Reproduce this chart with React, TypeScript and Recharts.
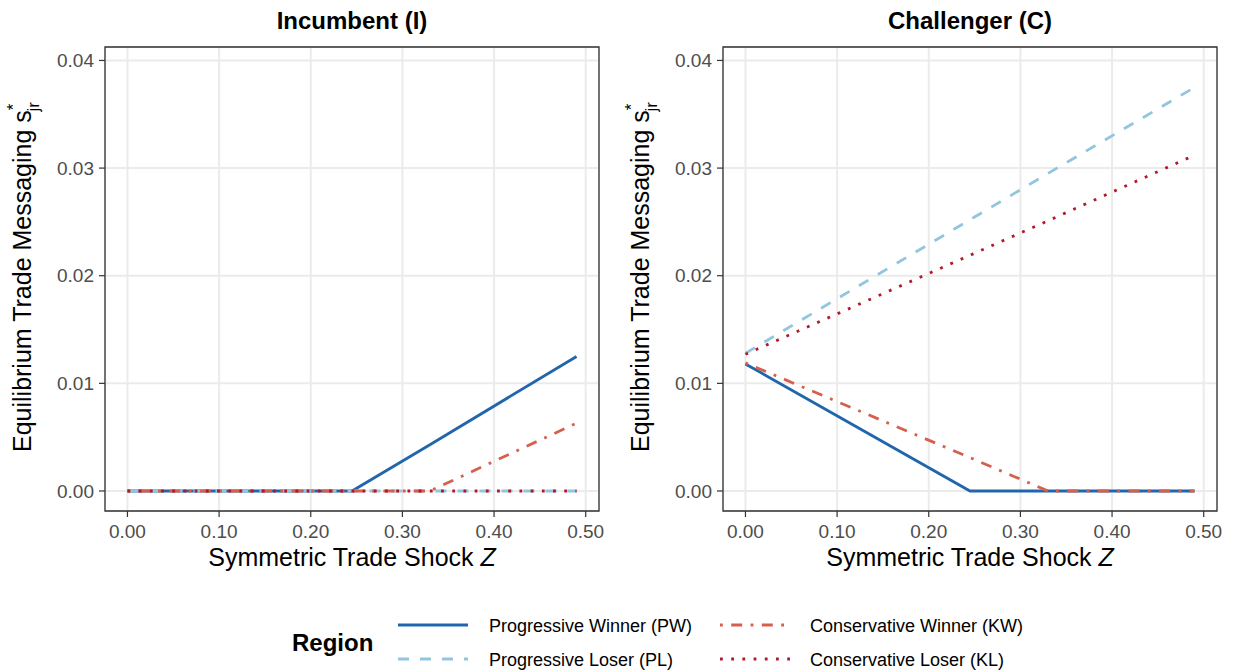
import React from "react";
import {
  LineChart,
  Line,
  XAxis,
  YAxis,
  CartesianGrid,
  ReferenceArea,
} from "recharts";

// ---- data (breakpoints of the piecewise-linear curves) ----
const zGrid = [0, 0.245, 0.33, 0.49];

const incPW = [0, 0, 0.0043, 0.0125];
const incPL = [0, 0, 0, 0];
const incKW = [0, 0, 0, 0.0063];
const incKL = [0, 0, 0, 0];

const chaPW = [0.0118, 0, 0, 0];
const chaPL = [0.0128, 0.0252, 0.0295, 0.0375];
const chaKW = [0.0119, 0.0031, 0, 0];
const chaKL = [0.0127, 0.0219, 0.0251, 0.0312];

const xTicks = [0, 0.1, 0.2, 0.3, 0.4, 0.5];
const yTicks = [0, 0.01, 0.02, 0.03, 0.04];
const xDomain = [-0.0245, 0.5145];
const yDomain = [-0.00186, 0.04125];

const seriesKeys = ["PW", "PL", "KW", "KL"];
const seriesNames = [
  "Progressive Winner (PW)",
  "Progressive Loser (PL)",
  "Conservative Winner (KW)",
  "Conservative Loser (KL)",
];
const seriesColors = ["#2166AC", "#92C5DE", "#D6604D", "#B2182B"];
const seriesDash = ["", "11 11", "2.8 8.4 11 8.4", "2.8 8.4"];

const FONT = "'Liberation Sans', Arial, Helvetica, sans-serif";

const buildRows = (pw: number[], pl: number[], kw: number[], kl: number[]) =>
  zGrid.map((z, i) => ({ z, PW: pw[i], PL: pl[i], KW: kw[i], KL: kl[i] }));

const incRows = buildRows(incPW, incPL, incKW, incKL);
const chaRows = buildRows(chaPW, chaPL, chaKW, chaKL);

//========== one facet panel ===========
const Panel = ({ rows, width, right }: { rows: any[]; width: number; right: number }) => (
  <LineChart
    width={width}
    height={600}
    data={rows}
    margin={{ top: 47, right, bottom: 0, left: 0 }}
    style={{ fontFamily: FONT }}
  >
    <CartesianGrid stroke="#EBEBEB" strokeWidth={2} />
    <XAxis
      type="number"
      dataKey="z"
      domain={xDomain}
      ticks={xTicks}
      allowDataOverflow
      height={89}
      axisLine={false}
      tickLine={{ stroke: "#333333", strokeWidth: 1.2 }}
      tickSize={6}
      tickMargin={8}
      tick={{ fill: "#4D4D4D", fontSize: 19 }}
      tickFormatter={(v: number) => v.toFixed(2)}
    />
    <YAxis
      type="number"
      domain={yDomain}
      ticks={yTicks}
      allowDataOverflow
      width={105}
      axisLine={false}
      tickLine={{ stroke: "#333333", strokeWidth: 1.2 }}
      tickSize={6}
      tickMargin={5}
      tick={{ fill: "#4D4D4D", fontSize: 19 }}
      tickFormatter={(v: number) => v.toFixed(2)}
    />
    {seriesKeys.map((k, i) => (
      <Line
        key={k}
        type="linear"
        dataKey={k}
        stroke={seriesColors[i]}
        strokeWidth={2.8}
        strokeDasharray={seriesDash[i] || undefined}
        strokeLinecap="butt"
        dot={false}
        activeDot={false}
        isAnimationActive={false}
      />
    ))}
    <ReferenceArea
      x1={xDomain[0]}
      x2={xDomain[1]}
      y1={yDomain[0]}
      y2={yDomain[1]}
      fill="none"
      stroke="#333333"
      strokeWidth={1.3}
      ifOverflow="visible"
    />
  </LineChart>
);

const YTitle = ({ x }: { x: number }) => (
  <text
    x={x}
    y={452}
    transform={`rotate(-90, ${x}, 452)`}
    fontSize={25}
    fill="#000"
  >
    Equilibrium Trade Messaging s
    <tspan fontSize={17} dy={-12}>*</tspan>
    <tspan fontSize={17} dx={-8} dy={20}>jr</tspan>
  </text>
);

const XTitle = ({ cx }: { cx: number }) => (
  <text x={cx} y={566} textAnchor="middle" fontSize={25} fill="#000">
    Symmetric Trade Shock <tspan fontStyle="italic">Z</tspan>
  </text>
);

const LegendKey = ({ x, y, i }: { x: number; y: number; i: number }) => (
  <line
    x1={x}
    x2={x + 70}
    y1={y}
    y2={y}
    stroke={seriesColors[i]}
    strokeWidth={2.8}
    strokeDasharray={seriesDash[i] || undefined}
  />
);

export default function App() {
  return (
    <div
      style={{
        position: "absolute",
        left: 0,
        top: 0,
        width: 1233,
        height: 670,
        background: "#fff",
        overflow: "hidden",
        fontFamily: FONT,
      }}
    >
      <div style={{ position: "absolute", left: 0, top: 0 }}>
        <Panel rows={incRows} width={617} right={18} />
      </div>
      <div style={{ position: "absolute", left: 618, top: 0 }}>
        <Panel rows={chaRows} width={615} right={16} />
      </div>

      {/*========= titles, axis titles and legend =========*/}
      <svg
        width={1233}
        height={670}
        style={{ position: "absolute", left: 0, top: 0, pointerEvents: "none", fontFamily: FONT }}
      >
        <text x={352} y={29} textAnchor="middle" fontSize={24} fontWeight="bold" fill="#000">
          Incumbent (I)
        </text>
        <text x={970} y={29} textAnchor="middle" fontSize={24} fontWeight="bold" fill="#000">
          Challenger (C)
        </text>

        <YTitle x={31} />
        <YTitle x={649} />
        <XTitle cx={352} />
        <XTitle cx={970} />

        <text x={292} y={651} fontSize={24} fontWeight="bold" fill="#000">
          Region
        </text>
        <LegendKey x={398} y={625} i={0} />
        <LegendKey x={398} y={659} i={1} />
        <LegendKey x={720} y={625} i={2} />
        <LegendKey x={720} y={659} i={3} />
        <text x={489} y={632} fontSize={18} fill="#000">{seriesNames[0]}</text>
        <text x={489} y={666} fontSize={18} fill="#000">{seriesNames[1]}</text>
        <text x={810} y={632} fontSize={18} fill="#000">{seriesNames[2]}</text>
        <text x={810} y={666} fontSize={18} fill="#000">{seriesNames[3]}</text>
      </svg>
    </div>
  );
}
